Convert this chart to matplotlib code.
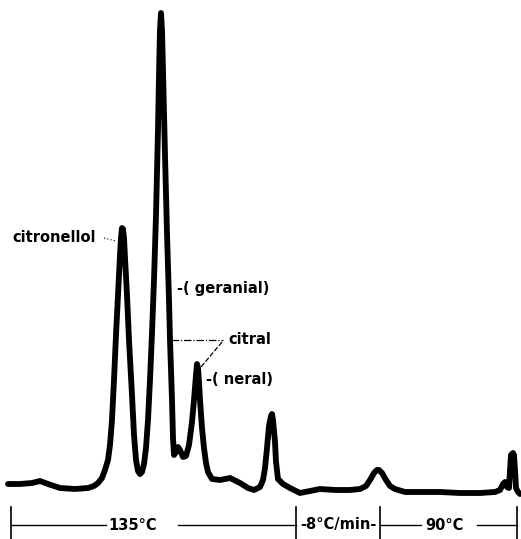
import numpy as np
import matplotlib.pyplot as plt

# --- chromatogram trace (retention = chart x, response = height above page line)
retention = [8, 20, 32, 40, 48, 60, 75, 88, 94, 98, 102, 105, 108, 110, 112, 114, 116, 118, 120, 121,
             122, 123, 124, 125, 127, 129, 132, 134, 136, 138, 140, 142, 144, 146, 148, 150, 152, 154,
             156, 158, 159, 160, 161, 162, 163, 165, 167, 169, 170, 172, 173, 174, 176, 178, 180, 183,
             186, 189, 192, 194, 196, 197, 198, 199, 200, 202, 204, 206, 208, 212, 220, 230, 240, 248,
             254, 260, 263, 265, 267, 269, 271, 272, 273, 275, 276, 278, 283, 290, 300, 310, 320, 335,
             350, 360, 366, 370, 374, 377, 379, 382, 386, 390, 395, 405, 420, 440, 460, 480, 495, 500,
             503, 505, 507, 509, 510, 511, 513, 514, 515, 516, 518, 520]
response = [16, 16, 17, 19, 16, 12, 11, 12, 14, 17, 22, 30, 40, 55, 80, 120, 165, 205, 245, 262,
            272, 271, 262, 242, 205, 160, 105, 65, 40, 29, 26, 28, 36, 52, 80, 120, 167, 220,
            285, 370, 425, 470, 487, 470, 430, 345, 267, 200, 160, 100, 62, 45, 48, 53, 50, 43,
            44, 55, 78, 100, 125, 136, 132, 118, 100, 72, 52, 37, 28, 21, 20, 22, 17, 12,
            10, 13, 20, 32, 52, 74, 84, 86, 80, 58, 38, 21, 16, 12, 7, 9, 11, 10,
            10, 11, 14, 20, 27, 30, 30, 27, 20, 14, 11, 8, 8, 8, 7, 7, 8, 10,
            16, 18, 13, 12, 30, 45, 47, 45, 30, 12, 8, 6]

# --- temperature programme under the trace
program_edges = [11, 296, 380, 517]
program_labels = ['135°C', '-8°C/min-', '90°C']
program_label_x = [133, 338, 444]

fig = plt.figure(figsize=(5.21, 5.39), dpi=100)
ax = fig.add_axes([0, 0, 1, 1])
ax.set_xlim(0, 521)
ax.set_ylim(-39, 500)
ax.axis('off')

ax.plot(retention, response, color='black', lw=4.2, solid_joinstyle='round', solid_capstyle='round')

font = dict(fontsize=10.5, fontweight='bold', color='black', family='DejaVu Sans')

# peak labels and leaders
ax.text(12, 263, 'citronellol', ha='left', va='center', **font)
ax.plot([104, 116], [262, 259], color='black', lw=0.8, ls=(0, (1, 2)))
ax.text(177, 212, '-( geranial)', ha='left', va='center', **font)
ax.text(228, 160, 'citral', ha='left', va='center', **font)
ax.plot([171, 223], [160, 160], color='black', lw=0.9, ls=(0, (6, 1.5, 1, 1.5)))
ax.plot([222, 201], [158, 133], color='black', lw=0.9, ls=(0, (4, 1.5)))
ax.text(206, 120, '-( neral)', ha='left', va='center', **font)

# temperature programme bar
bar_y = -25
for xe in program_edges:
    ax.plot([xe, xe], [-7, -39], color='black', lw=1.2)
ax.plot([11, 106], [bar_y, bar_y], color='black', lw=1.0)
ax.plot([178, 296], [bar_y, bar_y], color='black', lw=1.0)
ax.plot([380, 421], [bar_y, bar_y], color='black', lw=1.0)
ax.plot([477, 517], [bar_y, bar_y], color='black', lw=1.0)
for lab, xl in zip(program_labels, program_label_x):
    ax.text(xl, bar_y, lab, ha='center', va='center', **font)

fig.savefig('out.png', dpi=100, facecolor='white')
